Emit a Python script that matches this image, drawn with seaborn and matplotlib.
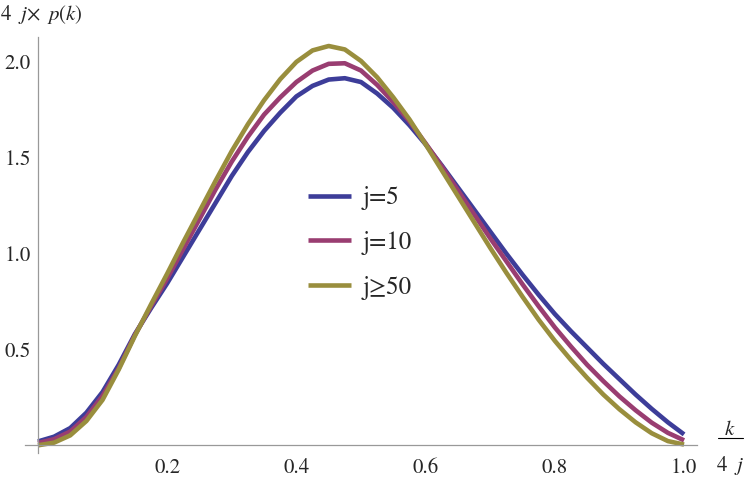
import numpy as np
import pandas as pd
import matplotlib
matplotlib.use("Agg")
import matplotlib.pyplot as plt
from matplotlib.lines import Line2D
from matplotlib.ticker import MultipleLocator, FixedLocator
import seaborn as sns

# значения (шаг 0.025)
x_vals = [0.000, 0.025, 0.050, 0.075, 0.100, 0.125, 0.150, 0.175, 0.200, 0.225,
          0.250, 0.275, 0.300, 0.325, 0.350, 0.375, 0.400, 0.425, 0.450, 0.475,
          0.500, 0.525, 0.550, 0.575, 0.600, 0.625, 0.650, 0.675, 0.700, 0.725,
          0.750, 0.775, 0.800, 0.825, 0.850, 0.875, 0.900, 0.925, 0.950, 0.975, 1.000]
j5 = [0.020, 0.045, 0.090, 0.170, 0.278, 0.420, 0.580, 0.715, 0.845, 0.985,
      1.125, 1.265, 1.405, 1.530, 1.640, 1.735, 1.820, 1.875, 1.908, 1.915,
      1.895, 1.835, 1.760, 1.670, 1.570, 1.460, 1.345, 1.230, 1.115, 1.000,
      0.890, 0.785, 0.685, 0.595, 0.510, 0.425, 0.345, 0.265, 0.190, 0.120, 0.057]
j10 = [0.012, 0.032, 0.072, 0.148, 0.258, 0.402, 0.575, 0.725, 0.870, 1.025,
       1.180, 1.335, 1.480, 1.610, 1.725, 1.815, 1.895, 1.955, 1.990, 1.993,
       1.955, 1.880, 1.790, 1.690, 1.575, 1.455, 1.330, 1.205, 1.080, 0.960,
       0.840, 0.725, 0.615, 0.515, 0.420, 0.335, 0.255, 0.183, 0.118, 0.065, 0.026]
j50 = [0.000, 0.014, 0.052, 0.127, 0.237, 0.395, 0.570, 0.735, 0.895, 1.060,
       1.220, 1.380, 1.535, 1.675, 1.800, 1.910, 2.000, 2.060, 2.083, 2.065,
       2.005, 1.920, 1.815, 1.700, 1.570, 1.435, 1.300, 1.165, 1.030, 0.900,
       0.775, 0.655, 0.545, 0.445, 0.352, 0.265, 0.188, 0.120, 0.063, 0.022, 0.004]
labels = ["j=5", "j=10", "j≥50"]
colors = ["#3d3d99", "#993d71", "#998e3d"]

x_ticks = [0.2, 0.4, 0.6, 0.8, 1.0]
y_ticks = [0.5, 1.0, 1.5, 2.0]

df = pd.concat([
    pd.DataFrame({"x": x_vals, "y": ys, "series": lab})
    for ys, lab in zip([j5, j10, j50], labels)
])

sns.set_style("white")
plt.rcParams["font.family"] = ["STIXGeneral", "DejaVu Serif"]
plt.rcParams["mathtext.fontset"] = "stix"

fig = plt.figure(figsize=(7.47, 4.82), dpi=100)
ax = fig.add_axes([25 / 747, 29 / 482, 672 / 747, 416 / 482])

sns.lineplot(data=df, x="x", y="y", hue="series", palette=dict(zip(labels, colors)),
             hue_order=labels, lw=3.3, ax=ax, estimator=None,
             solid_capstyle="butt")

ax.set_xlim(-0.02, 1.02)
ax.set_ylim(-0.04, 2.13)

# оси как в Mathematica: через ноль
for s in ["top", "right"]:
    ax.spines[s].set_visible(False)
ax.spines["left"].set_position(("data", 0))
ax.spines["bottom"].set_position(("data", 0))
for s in ["left", "bottom"]:
    ax.spines[s].set_color("#999999")
    ax.spines[s].set_linewidth(0.9)

ax.xaxis.set_major_locator(FixedLocator(x_ticks))
ax.yaxis.set_major_locator(FixedLocator(y_ticks))
ax.xaxis.set_minor_locator(MultipleLocator(0.05))
ax.yaxis.set_minor_locator(MultipleLocator(0.1))
ax.set_xticklabels([f"{v:.1f}" for v in x_ticks])
ax.set_yticklabels([f"{v:.1f}" for v in y_ticks])
ax.tick_params(which="both", direction="in", color="#999999", width=0.9, labelsize=15)
ax.tick_params(axis="x", which="major", length=4, pad=9)
ax.tick_params(axis="y", which="major", length=4, pad=5)
ax.tick_params(which="minor", length=3)
ax.set_xlabel("")
ax.set_ylabel("")

# подписи осей
fig.text(0.0, 1 - 20 / 482, r"$4\ \ j\!\times\ p(k)$", fontsize=15, va="baseline", ha="left")
fig.text(730 / 747, 1 - 435 / 482, r"$k$", fontsize=15, va="baseline", ha="center")
fig.text(730 / 747, 1 - 471 / 482, r"$4\ \ j$", fontsize=15, va="baseline", ha="center")
fig.add_artist(Line2D([718 / 747, 743 / 747], [1 - 437.5 / 482, 1 - 437.5 / 482],
                      transform=fig.transFigure, color="black", lw=0.8))

leg = ax.legend(loc="center left", bbox_to_anchor=(308 / 747, 1 - 243 / 482),
                bbox_transform=fig.transFigure, frameon=False, fontsize=18,
                handlelength=1.7, handletextpad=0.5, labelspacing=0.82,
                borderpad=0, borderaxespad=0)
for h in leg.get_lines():
    h.set_linewidth(3.3)

fig.savefig("out.png", dpi=100)
